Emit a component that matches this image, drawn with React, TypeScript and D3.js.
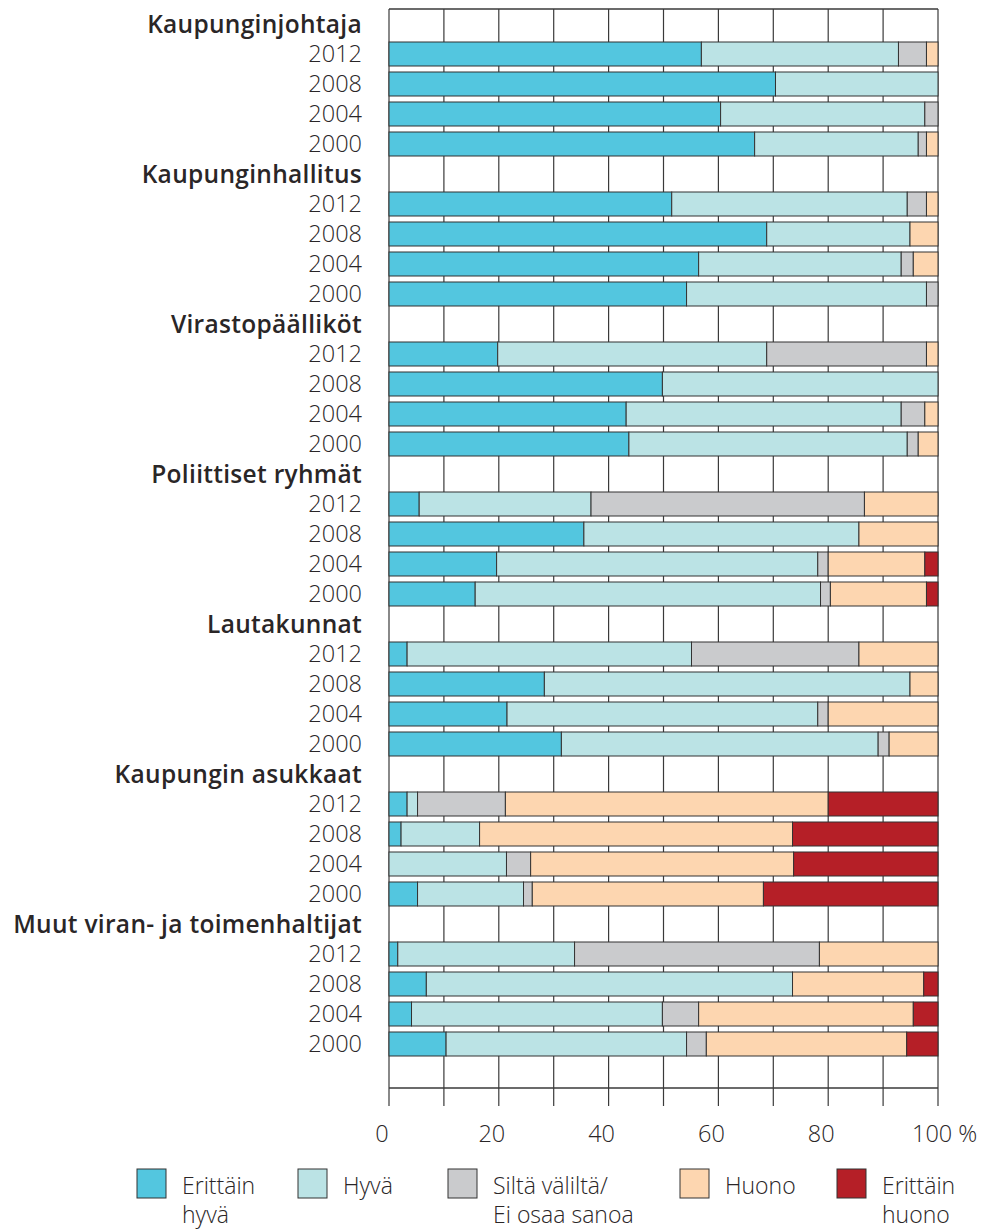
import React, { useEffect, useRef } from "react";
import * as d3 from "d3";

// Ryhmät ja vuodet
const groups = [
  "Kaupunginjohtaja",
  "Kaupunginhallitus",
  "Virastopäälliköt",
  "Poliittiset ryhmät",
  "Lautakunnat",
  "Kaupungin asukkaat",
  "Muut viran- ja toimenhaltijat",
];
const years = ["2012", "2008", "2004", "2000"];

const categories = ["Erittäin hyvä", "Hyvä", "Siltä väliltä/Ei osaa sanoa", "Huono", "Erittäin huono"];
const colors = ["#53C6DF", "#BBE3E5", "#CACBCD", "#FDD6B0", "#B51F27"];

// Arvot (%) ryhmittäin, vuodet järjestyksessä 2012, 2008, 2004, 2000
const erittainHyva = [56.9, 70.4, 60.4, 66.6, 51.5, 68.8, 56.4, 54.2, 19.8, 49.8, 43.2, 43.7, 5.5, 35.5, 19.6, 15.7, 3.3, 28.3, 21.5, 31.4, 3.3, 2.2, 0, 5.2, 1.6, 6.8, 4.1, 10.4];
const hyva = [35.9, 29.6, 37.2, 29.8, 42.9, 26.1, 36.9, 43.7, 49.0, 50.2, 50.1, 50.7, 31.3, 50.1, 58.5, 62.9, 51.8, 66.6, 56.6, 57.7, 1.9, 14.3, 21.4, 19.3, 32.2, 66.7, 45.7, 43.8];
const siltaValilta = [5.1, 0, 2.4, 1.5, 3.5, 0, 2.2, 2.1, 29.1, 0, 4.3, 2.0, 49.8, 0, 1.9, 1.8, 30.5, 0, 1.9, 2.0, 16.0, 0, 4.4, 1.6, 44.6, 0, 6.6, 3.6];
const huono = [2.1, 0, 0, 2.1, 2.1, 5.1, 4.5, 0, 2.1, 0, 2.4, 3.6, 13.4, 14.4, 17.6, 17.5, 14.4, 5.1, 20.0, 8.9, 58.8, 57.0, 47.9, 42.1, 21.6, 23.9, 39.1, 36.5];
const erittainHuono = [0, 0, 0, 0, 0, 0, 0, 0, 0, 0, 0, 0, 0, 0, 2.4, 2.1, 0, 0, 0, 0, 20.0, 26.5, 26.3, 31.8, 0, 2.6, 4.5, 5.7];

const xTicks = [0, 10, 20, 30, 40, 50, 60, 70, 80, 90, 100];
const xLabels = [0, 20, 40, 60, 80, 100];

const legendItems = [
  { lines: ["Erittäin", "hyvä"], x: 137 },
  { lines: ["Hyvä"], x: 298 },
  { lines: ["Siltä väliltä/", "Ei osaa sanoa"], x: 448 },
  { lines: ["Huono"], x: 680 },
  { lines: ["Erittäin", "huono"], x: 837 },
];

const FONT = "'Open Sans', 'DejaVu Sans', sans-serif";
const TEXT = "#2a2627";

const App = () => {
  const svgRef = useRef<SVGSVGElement>(null);

  useEffect(() => {
    const W = 982;
    const H = 1230;
    const left = 389;
    const right = 938;
    const top = 9;
    const bottom = 1089;

    const svg = d3.select(svgRef.current).attr("width", W).attr("height", H);
    svg.selectAll("*").remove();

    // Rivit: otsikko + 4 vuotta per ryhmä, lopussa tyhjä rivi
    const rows: { key: string; label: string; header: boolean; idx: number }[] = [];
    groups.forEach((g, gi) => {
      rows.push({ key: `h${gi}`, label: g, header: true, idx: -1 });
      years.forEach((y, yi) => {
        rows.push({ key: `r${gi}-${yi}`, label: y, header: false, idx: gi * 4 + yi });
      });
    });
    rows.push({ key: "empty", label: "", header: false, idx: -1 });

    const x = d3.scaleLinear().domain([0, 100]).range([left, right]);
    const y = d3
      .scaleBand()
      .domain(rows.map((r) => r.key))
      .range([top, bottom])
      .paddingInner(0.2)
      .paddingOuter(0.1);

    // Ruudukko
    svg
      .append("g")
      .selectAll("line")
      .data(xTicks)
      .enter()
      .append("line")
      .attr("x1", (d) => x(d))
      .attr("x2", (d) => x(d))
      .attr("y1", top)
      .attr("y2", 1106)
      .attr("stroke", "#3a3a3a")
      .attr("stroke-width", 1.2);

    svg
      .append("line")
      .attr("x1", left)
      .attr("x2", right)
      .attr("y1", top)
      .attr("y2", top)
      .attr("stroke", "#3a3a3a")
      .attr("stroke-width", 1.5);
    svg
      .append("line")
      .attr("x1", left)
      .attr("x2", right)
      .attr("y1", 1088)
      .attr("y2", 1088)
      .attr("stroke", "#3a3a3a")
      .attr("stroke-width", 1.5);

    // Pinotut palkit
    const table = rows
      .filter((r) => r.idx >= 0)
      .map((r) => ({
        key: r.key,
        [categories[0]]: erittainHyva[r.idx],
        [categories[1]]: hyva[r.idx],
        [categories[2]]: siltaValilta[r.idx],
        [categories[3]]: huono[r.idx],
        [categories[4]]: erittainHuono[r.idx],
      }));
    const stack = d3.stack<any>().keys(categories)(table);

    const layers = svg
      .append("g")
      .selectAll("g")
      .data(stack)
      .enter()
      .append("g")
      .attr("fill", (_, i) => colors[i]);

    layers
      .selectAll("rect")
      .data((d) => d.filter((s) => s[1] - s[0] > 0))
      .enter()
      .append("rect")
      .attr("x", (d) => x(d[0]))
      .attr("y", (d) => y(d.data.key)!)
      .attr("width", (d) => x(d[1]) - x(d[0]))
      .attr("height", y.bandwidth())
      .attr("stroke", "#333")
      .attr("stroke-width", 1);

    // Rivien nimet
    svg
      .append("g")
      .selectAll("text")
      .data(rows.filter((r) => r.label))
      .enter()
      .append("text")
      .attr("x", 362)
      .attr("y", (d) => y(d.key)! + y.bandwidth() / 2)
      .attr("dy", "0.36em")
      .attr("text-anchor", "end")
      .attr("font-family", FONT)
      .attr("font-size", (d) => (d.header ? 24.5 : 23.5))
      .attr("font-weight", (d) => (d.header ? 600 : 300))
      .attr("letter-spacing", (d) => (d.header ? 0.3 : 0))
      .attr("fill", TEXT)
      .text((d) => d.label);

    // X-akselin otsikot
    svg
      .append("g")
      .selectAll("text")
      .data(xLabels)
      .enter()
      .append("text")
      .attr("x", (d) => (d === 100 ? x(d) - 26 : x(d) - 7))
      .attr("y", 1134)
      .attr("dy", "0.36em")
      .attr("text-anchor", (d) => (d === 100 ? "start" : "middle"))
      .attr("font-family", FONT)
      .attr("font-size", 23.5)
      .attr("font-weight", 300)
      .attr("fill", TEXT)
      .text((d) => (d === 100 ? "100 %" : String(d)));

    // Selite
    const legend = svg
      .append("g")
      .selectAll("g")
      .data(legendItems)
      .enter()
      .append("g")
      .attr("transform", (d) => `translate(${d.x},1169)`);

    legend
      .append("rect")
      .attr("width", 29)
      .attr("height", 29)
      .attr("fill", (_, i) => colors[i])
      .attr("stroke", "#333")
      .attr("stroke-width", 1);

    legend
      .selectAll("text")
      .data((d) => d.lines)
      .enter()
      .append("text")
      .attr("x", 45)
      .attr("y", (_, i) => 17 + i * 29)
      .attr("dy", "0.36em")
      .attr("font-family", FONT)
      .attr("font-size", 23)
      .attr("font-weight", 300)
      .attr("fill", TEXT)
      .text((d) => d);
  }, []);

  return (
    <svg
      ref={svgRef}
      style={{ position: "absolute", left: 0, top: 0, background: "#fff" }}
    ></svg>
  );
};

export default App;
